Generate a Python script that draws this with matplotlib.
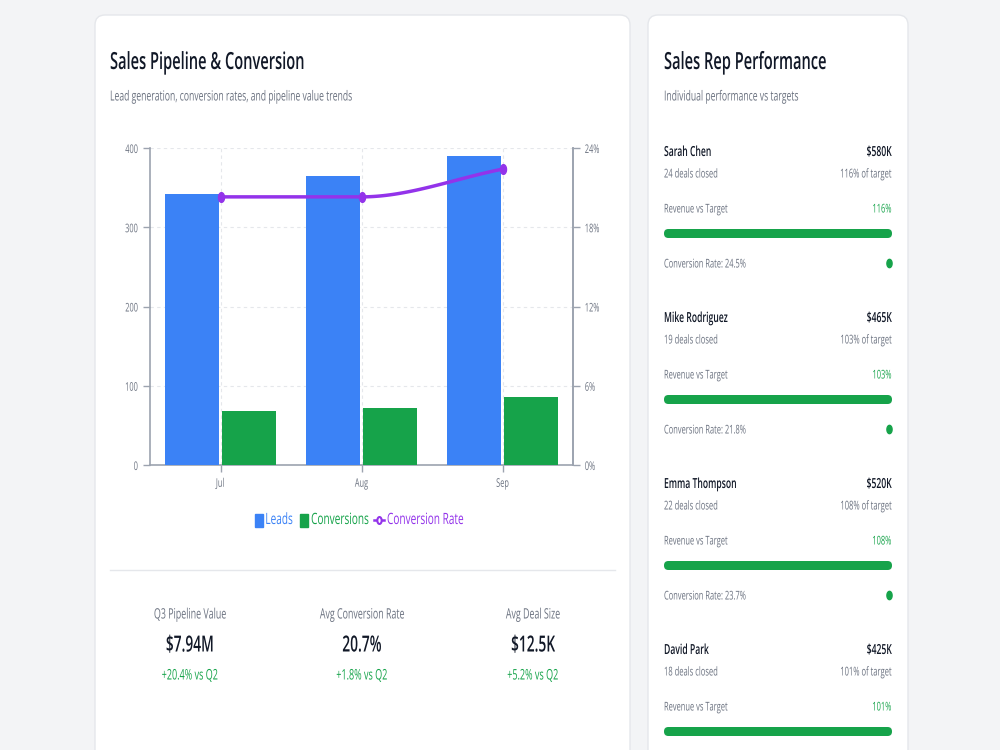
import numpy as np
import matplotlib
matplotlib.use("Agg")
import matplotlib.pyplot as plt
from matplotlib.patches import FancyBboxPatch, Rectangle
from matplotlib.patheffects import AbstractPathEffect
from matplotlib.transforms import Affine2D
from matplotlib.path import Path

# ---- data ----
months = ["Jul", "Aug", "Sep"]
leads = [342, 365, 390]
conversions = [68, 72, 86]
conv_rate = [20.3, 20.3, 22.4]

stat_labels = ["Q3 Pipeline Value", "Avg Conversion Rate", "Avg Deal Size"]
stat_values = ["$7.94M", "20.7%", "$12.5K"]
stat_deltas = ["+20.4% vs Q2", "+1.8% vs Q2", "+5.2% vs Q2"]

rep_names = ["Sarah Chen", "Mike Rodriguez", "Emma Thompson", "David Park"]
rep_revenue = ["$580K", "$465K", "$520K", "$425K"]
rep_deals = [24, 19, 22, 18]
rep_target_pct = [116, 103, 108, 101]
rep_conv = [24.5, 21.8, 23.7, None]  # last one is cut off in the view

BLUE = "#3b82f6"
GREEN = "#16a34a"
PURPLE = "#9333ea"
DARK = "#111827"
GRAY = "#6b7280"
LIGHT = "#e5e7eb"
AXIS = "#9ca3af"

SX = 0.62  # the reference is horizontally condensed
plt.rcParams["font.family"] = ["Open Sans", "DejaVu Sans"]


class Squeeze(AbstractPathEffect):
    """Draw text narrower, anchored at its alignment point."""

    def __init__(self, sx=SX, ha="left"):
        super().__init__()
        self.sx, self.ha = sx, ha

    def draw_path(self, renderer, gc, tpath, affine, rgbFace=None):
        ext = tpath.get_extents()
        cx = {"left": 0.0, "center": (ext.x0 + ext.x1) / 2, "right": ext.x1}[self.ha]
        pre = Affine2D().translate(-cx, 0).scale(self.sx, 1).translate(cx, 0)
        renderer.draw_path(gc, tpath, pre + affine, rgbFace)


def monotone(xs, ys, n=60):
    xs = np.asarray(xs, float)
    ys = np.asarray(ys, float)
    h = np.diff(xs)
    d = np.diff(ys) / h
    m = np.zeros_like(ys)
    m[0], m[-1] = d[0], d[-1]
    for k in range(1, len(xs) - 1):
        m[k] = 0 if d[k - 1] * d[k] <= 0 else (d[k - 1] + d[k]) / 2
    out_x, out_y = [], []
    for k in range(len(h)):
        t = np.linspace(0, 1, n)
        h00 = 2 * t**3 - 3 * t**2 + 1
        h10 = t**3 - 2 * t**2 + t
        h01 = -2 * t**3 + 3 * t**2
        h11 = t**3 - t**2
        out_x.extend(xs[k] + t * h[k])
        out_y.extend(h00 * ys[k] + h10 * h[k] * m[k] + h01 * ys[k + 1] + h11 * h[k] * m[k + 1])
    return out_x, out_y


th = np.linspace(0, 2 * np.pi, 41)
oval = Path(np.column_stack([SX * np.cos(th), np.sin(th)]), closed=True)

fig = plt.figure(figsize=(10, 7.5), dpi=100)
fig.patch.set_facecolor("#f3f4f6")

# background axes in pixel coordinates
bg = fig.add_axes([0, 0, 1, 1])
bg.set_xlim(0, 1000)
bg.set_ylim(750, 0)
bg.axis("off")


def txt(x, y, s, ha="left", sx=SX, **kw):
    t = bg.text(x, y, s, ha=ha, va="center", **kw)
    t.set_path_effects([Squeeze(sx, ha)])
    return t


for x0, x1 in [(95, 630), (648, 908)]:
    bg.add_patch(FancyBboxPatch((x0, 15), x1 - x0, 800, boxstyle="round,pad=0,rounding_size=10",
                                fc="white", ec=LIGHT, lw=1))

# left card headings
txt(110, 63, "Sales Pipeline & Conversion", fontsize=17, color=DARK, fontweight="semibold")
txt(110, 97, "Lead generation, conversion rates, and pipeline value trends", fontsize=10, color=GRAY)

# ---- chart ----
ax = fig.add_axes([0.15, 1 - 465 / 750, 0.423, 317 / 750])
x = np.arange(len(months))
w = 0.38
ax.bar(x - 0.204, leads, w, color=BLUE, zorder=3)
ax.bar(x + 0.204, conversions, w, color=GREEN, zorder=3)
ax.set_xlim(-0.5, 2.5)
ax.set_ylim(0, 400)
ax.set_yticks([0, 100, 200, 300, 400])
ax.set_xticks(x)
ax.set_xticklabels(months)
ax.grid(True, color=LIGHT, linestyle=(0, (3, 3)), lw=0.8, zorder=0)
ax.spines["top"].set_visible(False)
for s in ["left", "bottom", "right"]:
    ax.spines[s].set_color(AXIS)
    ax.spines[s].set_linewidth(1.2)
ax.tick_params(colors=AXIS, labelcolor=GRAY, labelsize=8.6, length=5, width=1)

ax2 = ax.twinx()
ax2.set_ylim(0, 24)
ax2.set_yticks([0, 6, 12, 18, 24])
ax2.set_yticklabels([f"{v}%" for v in [0, 6, 12, 18, 24]])
ax2.tick_params(colors=AXIS, labelcolor=GRAY, labelsize=8.6, length=5, width=1)
for s in ["top", "left", "bottom"]:
    ax2.spines[s].set_visible(False)
ax2.spines["right"].set_color(AXIS)
ax2.spines["right"].set_linewidth(1.2)
sx, sy = monotone(x, conv_rate)
ax2.plot(sx, sy, color=PURPLE, lw=2.5, solid_capstyle="round", zorder=4)
ax2.plot(x, conv_rate, linestyle="none", marker=oval, color=PURPLE, ms=7, zorder=5)

for tk in ax.yaxis.get_major_ticks():
    tk.label1.set_path_effects([Squeeze(SX, "right")])
for tk in ax.xaxis.get_major_ticks():
    tk.label1.set_path_effects([Squeeze(SX, "center")])
for tk in ax2.yaxis.get_major_ticks():
    tk.label2.set_path_effects([Squeeze(SX, "left")])

# legend (drawn by hand to match the condensed layout)
LSX = SX * 11.7 / 11.2
bg.add_patch(Rectangle((255, 514), 8, 13, color=BLUE))
txt(293, 520, "Leads", ha="right", sx=LSX, fontsize=11.2, color=BLUE)
bg.add_patch(Rectangle((300, 514), 8, 13, color=GREEN))
txt(340, 520, "Conversions", ha="center", sx=LSX, fontsize=11.2, color=GREEN)
bg.plot([374, 384], [520, 520], color=PURPLE, lw=1.8)
bg.plot([379], [520], linestyle="none", marker=oval, ms=5, mfc="white", mec=PURPLE, mew=1.5)
txt(387, 520, "Conversion Rate", sx=LSX, fontsize=11.2, color=PURPLE)

# divider + stats
bg.plot([110, 615], [570, 570], color=LIGHT, lw=1)
for cx, lab, val, dlt in zip([190, 362, 533], stat_labels, stat_values, stat_deltas):
    txt(cx, 615, lab, ha="center", fontsize=10.3, color=GRAY)
    txt(cx, 646, val, ha="center", fontsize=16, color=DARK, fontweight="semibold")
    txt(cx, 676, dlt, ha="center", fontsize=10.5, color=GREEN)

# ---- right card ----
txt(664, 63, "Sales Rep Performance", fontsize=17, color=DARK, fontweight="semibold")
txt(664, 97, "Individual performance vs targets", fontsize=10, color=GRAY)

L, R = 664, 892
for i, (nm, rev, dl, pct, cr) in enumerate(zip(rep_names, rep_revenue, rep_deals, rep_target_pct, rep_conv)):
    y0 = 152 + 166 * i
    txt(L, y0, nm, fontsize=10, color=DARK, fontweight="semibold")
    txt(R, y0, rev, ha="right", fontsize=10, color=DARK, fontweight="semibold")
    txt(L, y0 + 22, f"{dl} deals closed", fontsize=8.8, color=GRAY)
    txt(R, y0 + 22, f"{pct}% of target", ha="right", fontsize=8.8, color=GRAY)
    txt(L, y0 + 57, "Revenue vs Target", fontsize=8.7, color=GRAY)
    txt(R, y0 + 57, f"{pct}%", ha="right", fontsize=8.7, color=GREEN)
    bg.add_patch(FancyBboxPatch((L, y0 + 77), R - L, 9, boxstyle="round,pad=0,rounding_size=4.5",
                                fc=LIGHT, ec="none"))
    bw = (R - L) * min(pct, 100) / 100
    bg.add_patch(FancyBboxPatch((L, y0 + 77), bw, 9, boxstyle="round,pad=0,rounding_size=4.5",
                                fc=GREEN, ec="none"))
    if cr is not None:
        txt(L, y0 + 112, f"Conversion Rate: {cr}%", fontsize=8.7, color=GRAY)
        bg.plot([R - 3], [y0 + 111], linestyle="none", marker=oval, color=GREEN, ms=6)

fig.savefig("out.png", dpi=100, facecolor=fig.get_facecolor())
